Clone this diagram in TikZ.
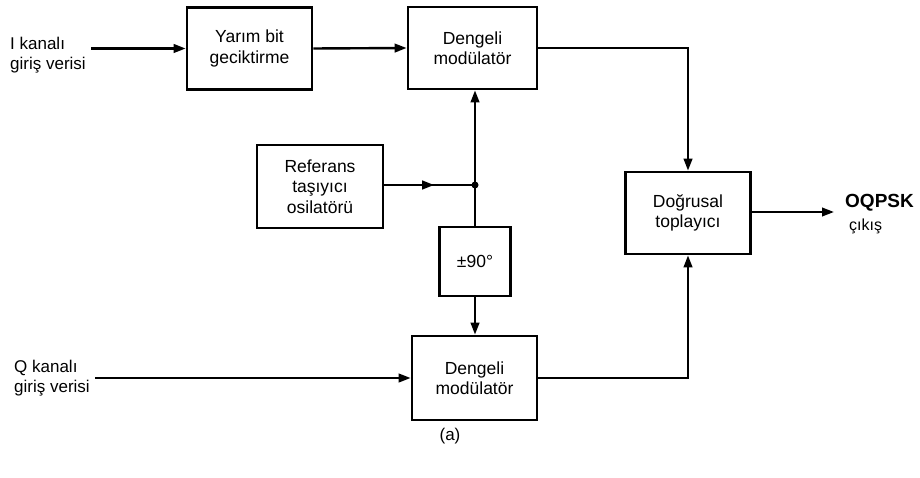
\documentclass[tikz,border=0pt]{standalone}
\usepackage{fontspec}
\setmainfont{Liberation Sans}
\usetikzlibrary{arrows.meta,decorations.markings}
\begin{document}
\begin{tikzpicture}[x=1pt,y=-1pt,
  blk/.style={draw, line width=2.7pt, align=center, inner sep=0pt,
    font=\fontsize{17.5}{20.5}\selectfont},
  lbl/.style={align=left, anchor=west, inner sep=0pt,
    font=\fontsize{17}{20}\selectfont},
  conn/.style={line width=2.4pt, -{Triangle[length=12pt,width=8.5pt]}},
  plain/.style={line width=2.4pt},
  midarrow/.style={line width=2.4pt, decoration={markings,
    mark=at position 0.55 with {\arrow{Triangle[length=12pt,width=8.5pt]}}},
    postaction={decorate}}]
\useasboundingbox (0,0) rectangle (920,478);
\fill[white] (0,0) rectangle (920,478);

% blocks
\node[blk, minimum width=125pt, minimum height=82pt] (yarim) at (249.5,48.5) {Yarım bit\\geciktirme};
\node[blk, minimum width=129pt, minimum height=82pt] (dtop) at (472.5,48) {Dengeli\\modülatör};
\node[blk, minimum width=126pt, minimum height=83pt] (ref) at (320,186.5) {Referans\\taşıyıcı\\osilatörü};
\node[blk, minimum width=71pt, minimum height=69pt] (pm) at (475,261.5) {±90°};
\node[blk, minimum width=125pt, minimum height=84pt] (dbot) at (474.5,378) {Dengeli\\modülatör};
\node[blk, minimum width=125pt, minimum height=82pt] (sum) at (688,213) {Doğrusal\\toplayıcı};

% labels
\node[lbl] (ilbl) at (10,55) {I kanalı\\giriş verisi};
\node[lbl] (qlbl) at (14,378) {Q kanalı\\giriş verisi};
\node[anchor=west, inner sep=0pt, font=\fontsize{19}{22}\selectfont\bfseries] (oq) at (845,203) {OQPSK};
\node[anchor=west, inner sep=0pt, font=\fontsize{16}{18}\selectfont] (cik) at (849,226) {çıkış};
\node[inner sep=0pt, font=\fontsize{17}{20}\selectfont] (cap) at (450,436) {(a)};

% coordinates
\coordinate (iin) at (91,48.5);
\coordinate (qin) at (95,378);
\coordinate (j) at (475,185);
\coordinate (out) at (834,212);

% connectors
\draw[conn] (iin) -- (yarim.west);
\draw[conn] (yarim.east) -- (dtop.west);
\draw[conn] (qin) -- (dbot.west);
\draw[midarrow] (ref.east |- j) -- (j);
\draw[conn] (j) -- (j |- dtop.south);
\draw[plain] (j) -- (pm.north);
\draw[conn] (pm.south) -- (pm.south |- dbot.north);
\draw[conn] (dtop.east) -| (sum.north);
\draw[conn] (dbot.east) -| (sum.south);
\draw[conn] (sum.east |- out) -- (out);
\fill (j) circle (3.5pt);
\end{tikzpicture}
\end{document}
